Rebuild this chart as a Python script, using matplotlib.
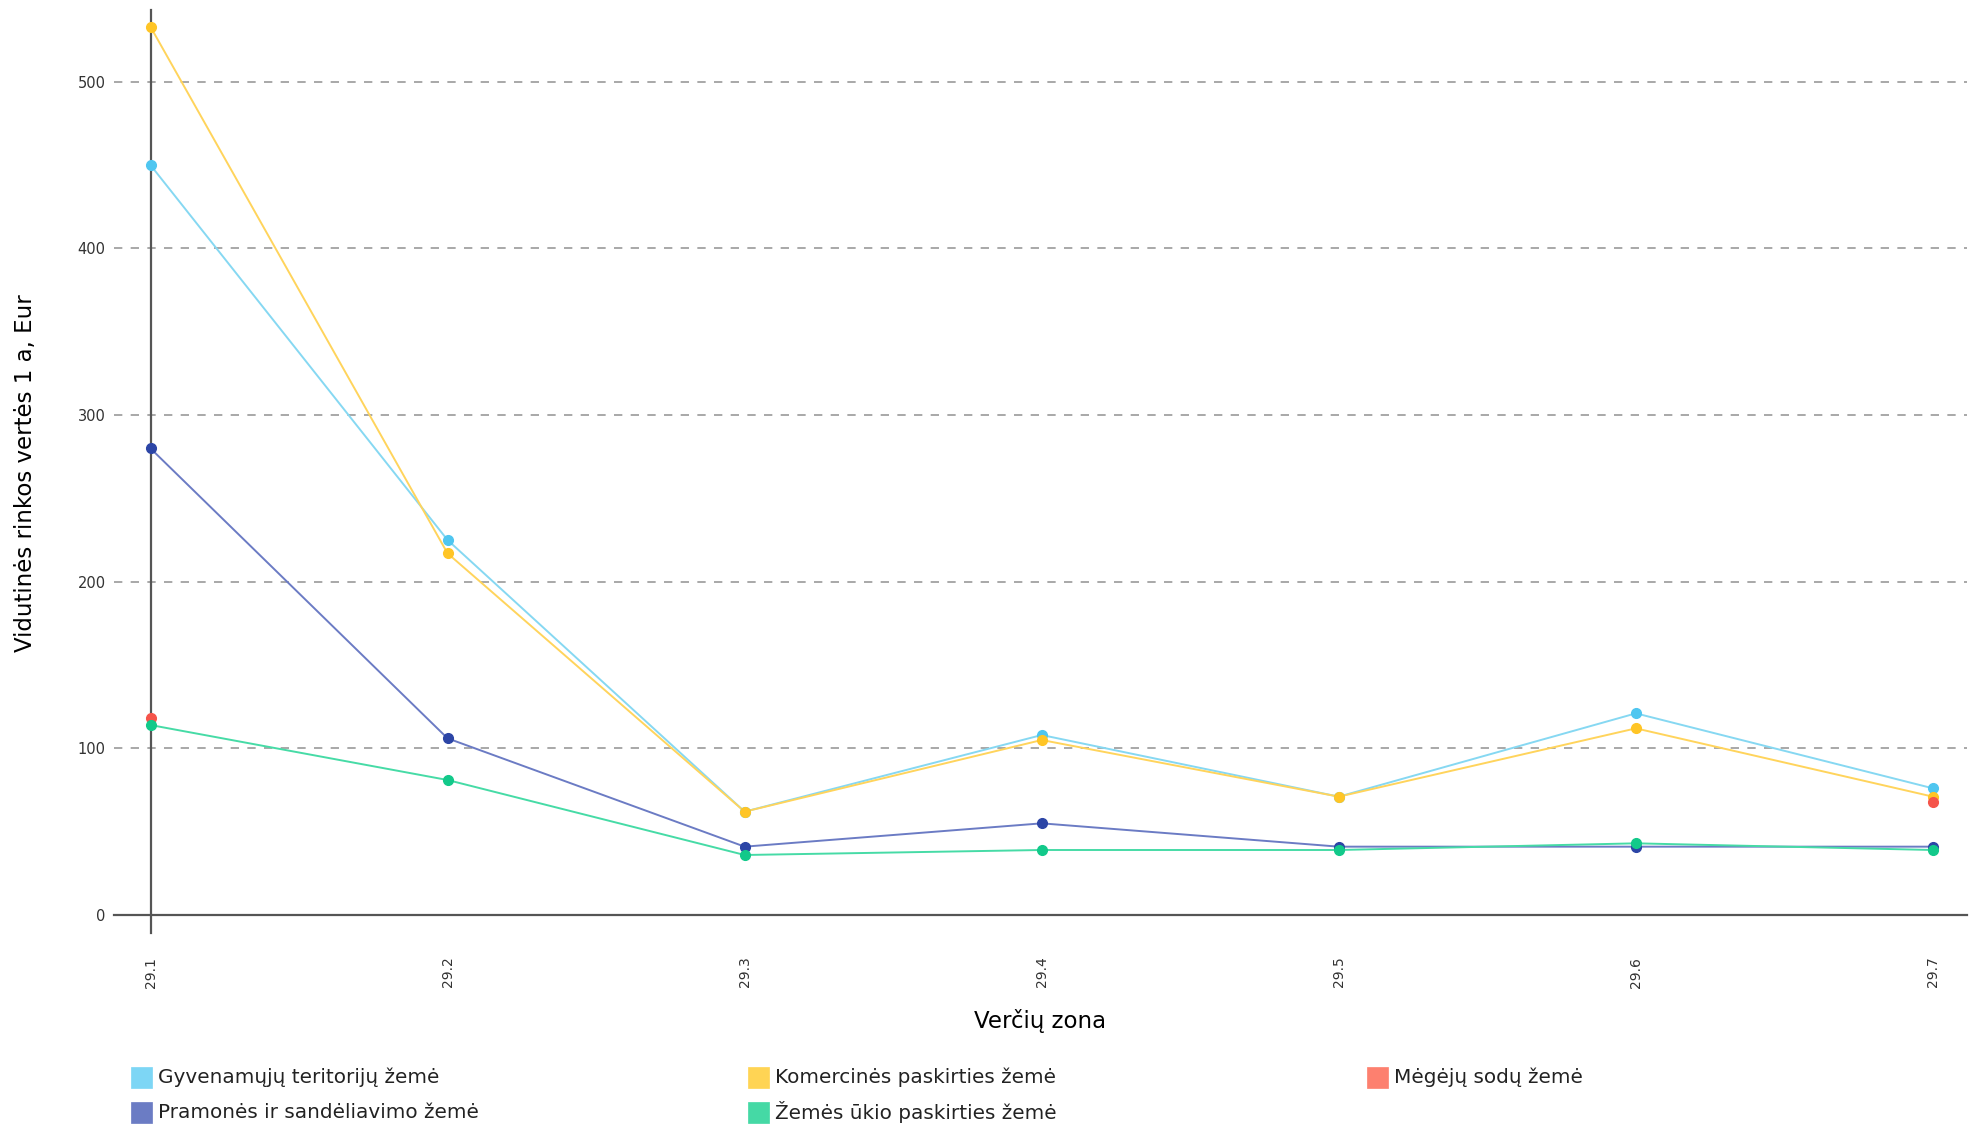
import numpy as np
import matplotlib
matplotlib.use("Agg")
import matplotlib.pyplot as plt
from matplotlib.patches import Rectangle

# -------- data --------
zones = ["29.1", "29.2", "29.3", "29.4", "29.5", "29.6", "29.7"]

gyvenamuju = [450, 225, 62, 108, 71, 121, 76]
komercines = [533, 217, 62, 105, 71, 112, 71]
megeju = [118, np.nan, np.nan, np.nan, np.nan, np.nan, 68]
pramones = [280, 106, 41, 55, 41, 41, 41]
zemes_ukio = [114, 81, 36, 39, 39, 43, 39]

series_names = ["Gyvenamųjų teritorijų žemė", "Komercinės paskirties žemė",
                "Mėgėjų sodų žemė", "Pramonės ir sandėliavimo žemė",
                "Žemės ūkio paskirties žemė"]
series_values = [gyvenamuju, komercines, megeju, pramones, zemes_ukio]

line_colors = ["#86d8f2", "#ffd45c", "#f7685a", "#6b7bc4", "#46dba6"]
marker_colors = ["#4fc6f0", "#ffc526", "#f5544a", "#2c45a6", "#12c98a"]
legend_colors = ["#7dd6f5", "#ffd454", "#fd806f", "#6b7cc4", "#45d9a5"]

plt.rcParams["font.family"] = ["DejaVu Sans"]

fig = plt.figure(figsize=(19.82, 11.26), dpi=100)
ax = fig.add_axes([0.0575, 0.1874, 0.935, 0.8036])

x = np.arange(len(zones))

for vals, lc, mc in zip(series_values, line_colors, marker_colors):
    ax.plot(x, vals, color=lc, lw=1.4, zorder=3)
    ax.plot(x, vals, ls="none", marker="o", ms=7, color=mc, zorder=4)

ax.set_xlim(-0.123, 6.115)
ax.set_ylim(0, 543)

# grid
for s in ["top", "right", "left"]:
    ax.spines[s].set_visible(False)
ax.spines["bottom"].set_color("#555555")
ax.spines["bottom"].set_linewidth(1.6)
ax.set_yticks([0, 100, 200, 300, 400, 500])
ax.yaxis.grid(True, ls=(0, (5, 5)), color="#9a9a9a", lw=1.2)
ax.set_axisbelow(True)

# vertical axis line on first zone
ax.plot([0, 0], [-11, 543], color="#555555", lw=1.6, clip_on=False, zorder=2)

ax.set_xticks(x)
ax.set_xticklabels(zones, rotation=90, fontsize=10, color="#333333")
ax.tick_params(axis="x", length=0, pad=30)
ax.tick_params(axis="y", length=0, pad=6, labelsize=10.5, labelcolor="#333333")

ax.set_xlabel("Verčių zona", fontsize=16.5, va="center")
ax.xaxis.set_label_coords(0.5, -0.117)
ax.set_ylabel("Vidutinės rinkos vertės 1 a, Eur", fontsize=16.5, va="center")
ax.yaxis.set_label_coords(-0.048, 0.488)

# -------- legend --------
W, H = 1982.0, 1126.0
col_x = [131, 748, 1367]
row_y = [1077, 1112]
order = [(0, 0), (0, 1), (0, 2), (1, 0), (1, 1)]
for (r, c), name, col in zip(order, series_names, legend_colors):
    fig.patches.append(Rectangle((col_x[c] / W, 1 - (row_y[r] + 10.5) / H), 21 / W, 21 / H,
                                 transform=fig.transFigure, facecolor=col,
                                 edgecolor=col, lw=0.5))
    fig.text((col_x[c] + 27) / W, 1 - row_y[r] / H, name, fontsize=14.4,
             va="center", ha="left", color="#222222")

plt.savefig("out.png", dpi=100)
plt.close()
